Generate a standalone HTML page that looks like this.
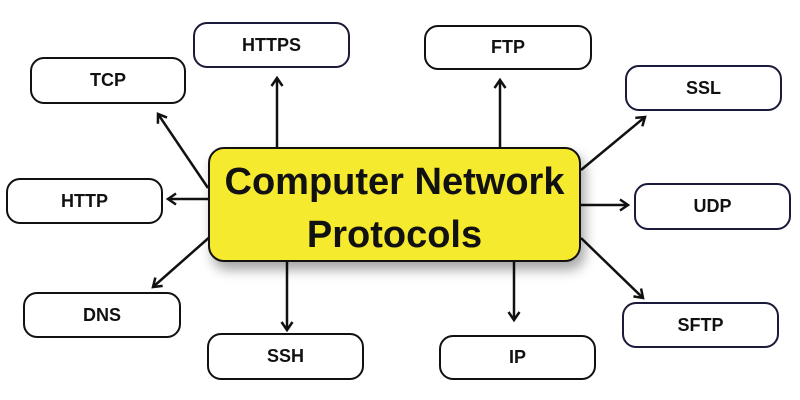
<!DOCTYPE html><html><head><style>
body{margin:0;width:800px;height:400px;background:#fff;position:relative;overflow:hidden;font-family:"Liberation Sans",sans-serif}
.b{position:absolute;border:2.5px solid #111;border-radius:14px;background:#fff;box-sizing:border-box;display:flex;align-items:center;justify-content:center;font-weight:bold;font-size:18px;color:#111}
.n{border-color:#1a1a3a}
#c{position:absolute;left:208px;top:147px;width:373px;height:115px;background:#f6ea2e;border:2px solid #111;border-radius:16px;box-sizing:border-box;box-shadow:4px 8px 12px rgba(0,0,0,.35);display:flex;flex-direction:column;align-items:center;justify-content:center;padding-top:8px;font-weight:bold;font-size:38px;line-height:53px;color:#111}
svg{position:absolute;left:0;top:0}
</style></head><body>
<svg width="800" height="400"><defs><marker id="a" markerWidth="14" markerHeight="14" refX="10" refY="7" orient="auto" markerUnits="userSpaceOnUse"><path d="M2,1.5 L10,7 L2,12.5" fill="none" stroke="#111" stroke-width="2.5"/></marker></defs>
<g stroke="#111" stroke-width="2.5" marker-end="url(#a)">
<line x1="277" y1="147" x2="277" y2="78"/>
<line x1="500" y1="147" x2="500" y2="80"/>
<line x1="208" y1="188" x2="158" y2="114"/>
<line x1="208" y1="199" x2="168" y2="199"/>
<line x1="212" y1="235" x2="153" y2="287"/>
<line x1="287" y1="262" x2="287" y2="330"/>
<line x1="514" y1="262" x2="514" y2="320"/>
<line x1="581" y1="238" x2="643" y2="298"/>
<line x1="581" y1="205" x2="628" y2="205"/>
<line x1="581" y1="170" x2="645" y2="117"/>
</g></svg>
<div class="b n" style="left:193px;top:22px;width:157px;height:46px">HTTPS</div>
<div class="b" style="left:30px;top:57px;width:156px;height:47px">TCP</div>
<div class="b" style="left:6px;top:178px;width:157px;height:46px">HTTP</div>
<div class="b" style="left:23px;top:292px;width:158px;height:46px">DNS</div>
<div class="b" style="left:207px;top:333px;width:157px;height:47px">SSH</div>
<div class="b" style="left:439px;top:335px;width:157px;height:45px">IP</div>
<div class="b n" style="left:622px;top:302px;width:157px;height:46px">SFTP</div>
<div class="b n" style="left:634px;top:183px;width:157px;height:47px">UDP</div>
<div class="b n" style="left:625px;top:65px;width:157px;height:46px">SSL</div>
<div class="b" style="left:424px;top:25px;width:168px;height:45px">FTP</div>
<div id="c"><div>Computer Network</div><div>Protocols</div></div>
</body></html>
